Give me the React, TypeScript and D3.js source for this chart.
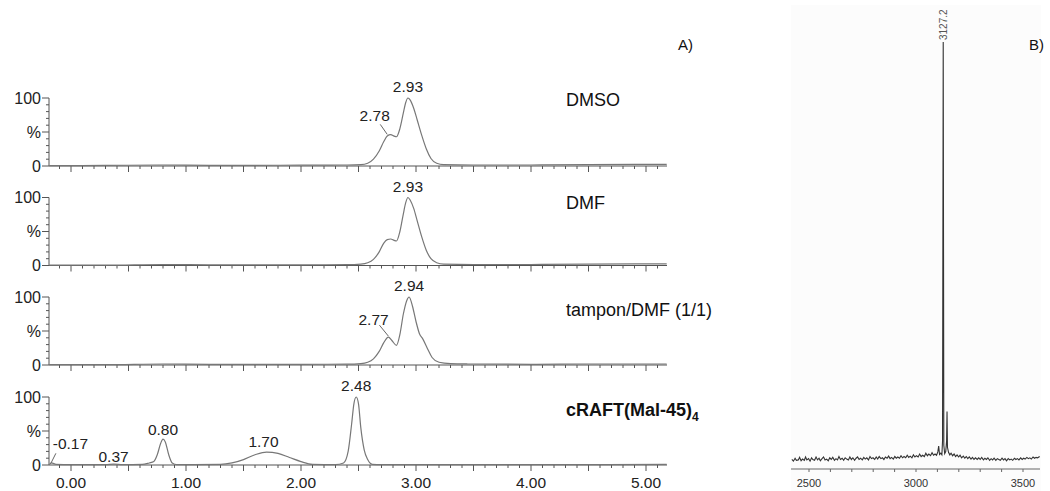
import React from "react";
import * as d3 from "d3";

// ---------- Panel A data (retention time in min, intensity in %) ----------
const traceNames = ["DMSO", "DMF", "tampon/DMF (1/1)", "cRAFT(Mal-45)"];

const dmso: [number, number][] = [
  [-0.19, 0.5], [0.3, 0.8], [0.8, 1.5], [1.2, 1], [1.6, 1], [2.0, 1.2], [2.4, 1.5],
  [2.52, 2], [2.58, 4], [2.63, 10], [2.68, 22], [2.72, 36], [2.75, 44], [2.78, 46],
  [2.81, 44], [2.83, 43], [2.86, 55], [2.89, 78], [2.91, 93], [2.93, 100], [2.95, 97],
  [2.98, 85], [3.01, 68], [3.05, 45], [3.09, 25], [3.13, 11], [3.18, 4], [3.24, 2],
  [3.5, 1.5], [4.0, 1.5], [4.5, 2], [5.0, 2.5], [5.18, 2.5],
];
const dmf: [number, number][] = [
  [-0.19, 0.5], [0.3, 0.5], [0.8, 1.5], [1.2, 1], [1.6, 0.8], [2.0, 1], [2.4, 1.2],
  [2.52, 2], [2.58, 4], [2.63, 9], [2.68, 20], [2.72, 33], [2.75, 38], [2.78, 39],
  [2.81, 37], [2.83, 36], [2.86, 50], [2.89, 76], [2.91, 92], [2.93, 100], [2.95, 96],
  [2.98, 84], [3.01, 66], [3.05, 42], [3.09, 22], [3.13, 10], [3.18, 4], [3.24, 2],
  [3.5, 1.5], [4.0, 1.5], [4.5, 2], [5.0, 2.5], [5.18, 2.5],
];
const tampon: [number, number][] = [
  [-0.19, 0.5], [0.3, 0.5], [0.8, 1.5], [1.2, 1], [1.6, 1], [2.0, 1], [2.4, 1.2],
  [2.52, 2], [2.58, 4], [2.63, 9], [2.68, 20], [2.72, 33], [2.76, 41], [2.79, 36],
  [2.83, 29], [2.86, 45], [2.89, 75], [2.92, 95], [2.94, 100], [2.97, 86], [3.0, 64],
  [3.03, 46], [3.06, 38], [3.1, 24], [3.14, 11], [3.2, 4], [3.3, 2], [3.45, 1.5],
  [4.0, 1], [4.5, 1.5], [5.0, 1.5], [5.18, 1.5],
];
const craft: [number, number][] = [
  [-0.19, 0.3], [-0.17, 3], [-0.13, 1], [0.0, 0.5], [0.3, 0.5], [0.37, 1.2], [0.45, 0.5],
  [0.62, 0.8], [0.68, 3], [0.72, 5], [0.75, 15], [0.78, 32], [0.8, 38], [0.82, 34],
  [0.85, 15], [0.88, 3], [0.92, 0.5], [1.3, 0.8], [1.4, 3], [1.5, 8], [1.6, 15],
  [1.7, 19], [1.8, 17], [1.9, 11], [2.0, 5], [2.1, 1], [2.3, 0.5], [2.37, 3],
  [2.41, 20], [2.44, 60], [2.46, 90], [2.48, 100], [2.5, 90], [2.52, 55], [2.55, 22],
  [2.58, 8], [2.62, 1], [2.7, 0.5], [4.0, 0.5], [5.18, 0.8],
];
const traces = [dmso, dmf, tampon, craft];

// peak labels
const peakLabels: { i: number; t: number; text: string; dx: number; y: number }[] = [
  { i: 0, t: 2.93, text: "2.93", dx: 0, y: 100 },
  { i: 0, t: 2.78, text: "2.78", dx: -16, y: 58 },
  { i: 1, t: 2.93, text: "2.93", dx: 0, y: 100 },
  { i: 2, t: 2.94, text: "2.94", dx: 0, y: 100 },
  { i: 2, t: 2.77, text: "2.77", dx: -16, y: 50 },
  { i: 3, t: 2.48, text: "2.48", dx: 0, y: 100 },
  { i: 3, t: 0.8, text: "0.80", dx: 0, y: 36 },
  { i: 3, t: 1.7, text: "1.70", dx: -3, y: 18 },
  { i: 3, t: 0.37, text: "0.37", dx: 0, y: -4 },
  { i: 3, t: -0.17, text: "-0.17", dx: 19, y: 15 },
];
const xTickValues = [0, 1, 2, 3, 4, 5];
const xTickLabels = ["0.00", "1.00", "2.00", "3.00", "4.00", "5.00"];
const yTickLabels = ["0", "%", "100"];

// ---------- Panel B data (m/z, relative intensity %) ----------
const msSpectrum: [number, number][] = [
  [2420, 0.6], [2427, 0.2], [2435, 0.9], [2441, 0.4], [2450, 0.5], [2456, 1.1], [2463, 0.3],
  [2470, 0.7], [2478, 0.4], [2484, 1.2], [2490, 0.5], [2498, 0.8], [2505, 0.2], [2512, 1.0],
  [2518, 0.6], [2526, 0.4], [2533, 1.2], [2540, 0.5], [2547, 0.9], [2553, 0.3], [2561, 0.8],
  [2568, 1.2], [2575, 0.5], [2582, 0.7], [2590, 0.3], [2597, 1.0], [2604, 0.6], [2611, 1.1],
  [2619, 0.4], [2626, 0.8], [2633, 0.5], [2640, 1.3], [2647, 0.6], [2655, 0.9], [2662, 0.4],
  [2669, 1.0], [2676, 0.7], [2684, 0.5], [2691, 1.2], [2698, 0.6], [2705, 1.0], [2713, 0.4],
  [2720, 0.9], [2727, 1.2], [2734, 0.6], [2741, 0.9], [2749, 0.5], [2756, 1.1], [2763, 0.7],
  [2770, 1.0], [2778, 0.5], [2785, 1.3], [2792, 0.8], [2799, 1.0], [2807, 0.6], [2814, 1.2],
  [2821, 0.7], [2828, 1.3], [2836, 0.8], [2843, 1.0], [2850, 0.6], [2857, 1.2], [2865, 0.9],
  [2872, 1.4], [2879, 0.8], [2886, 1.1], [2894, 0.7], [2901, 1.3], [2908, 0.9], [2915, 1.2],
  [2923, 0.9], [2930, 1.5], [2937, 1.0], [2944, 1.3], [2952, 1.0], [2959, 1.6], [2966, 1.1],
  [2973, 1.4], [2981, 1.0], [2988, 1.7], [2995, 1.2], [3002, 1.5], [3010, 1.2], [3017, 1.9],
  [3024, 1.3], [3031, 1.6], [3039, 1.3], [3046, 2.1], [3053, 1.5], [3060, 1.9], [3068, 1.5],
  [3075, 2.2], [3082, 1.6], [3089, 1.9], [3096, 1.6], [3102, 2.4], [3106, 3.8], [3110, 1.8],
  [3116, 2.1], [3121, 1.7], [3124, 5], [3127.2, 100], [3130, 4], [3134, 2.0], [3139, 2.5],
  [3143, 5], [3145, 12], [3147, 3.5], [3152, 2.3], [3158, 1.7], [3164, 2.1], [3171, 1.5],
  [3178, 1.9], [3185, 1.3], [3192, 1.7], [3199, 1.2], [3206, 1.6], [3213, 1.0], [3221, 1.4],
  [3228, 0.9], [3235, 1.3], [3242, 0.8], [3249, 1.2], [3257, 0.7], [3264, 1.1], [3271, 0.6],
  [3278, 1.0], [3286, 0.6], [3293, 1.0], [3300, 0.6], [3307, 1.1], [3315, 0.5], [3322, 0.9],
  [3329, 0.6], [3336, 1.0], [3344, 0.4], [3351, 0.8], [3358, 0.5], [3365, 0.9], [3373, 0.4],
  [3380, 0.8], [3387, 0.6], [3394, 0.4], [3402, 0.9], [3409, 0.5], [3416, 0.8], [3423, 0.3],
  [3431, 0.8], [3438, 0.5], [3445, 0.7], [3452, 0.4], [3460, 0.9], [3467, 0.6], [3474, 0.8],
  [3481, 0.5], [3489, 1.0], [3496, 0.6], [3503, 0.9], [3510, 0.7], [3518, 1.1], [3525, 0.8],
  [3532, 1.0], [3539, 0.7], [3547, 1.2], [3554, 0.9], [3561, 1.1], [3568, 1.0], [3578, 1.3],
];
const msTickValues = [2500, 2600, 2700, 2800, 2900, 3000, 3100, 3200, 3300, 3400, 3500];
const msTickLabels = ["2500", "3000", "3500"];
const msPeakLabel = { mz: 3127.2, text: "3127.2" };

const FONT = "'Liberation Sans', Arial, Helvetica, sans-serif";

export default function App() {
  // Panel A geometry
  const x = d3.scaleLinear().domain([0, 5]).range([71, 646]);
  const xLeft = x.invert(49);
  const xRight = x.invert(667);
  const panelTop = [98, 197.5, 297, 397];
  const panelH = 68;
  const yScales = panelTop.map((t) =>
    d3.scaleLinear().domain([0, 100]).range([t + panelH, t])
  );
  const minorX = d3.range(-0.1, 5.15, 0.1).map((v) => Math.round(v * 10) / 10);
  const yMinor = d3.range(0, 101, 10);

  // Panel B geometry
  const xb = d3.scaleLinear().domain([2500, 3500]).range([809, 1023]);
  const yb = d3.scaleLinear().domain([0, 100]).range([462, 42]);
  const msLine = d3
    .line<[number, number]>()
    .x((d) => xb(d[0]))
    .y((d) => yb(d[1]))
    .curve(d3.curveLinear);

  const gray = "#555";
  return (
    <div style={{ position: "absolute", left: 0, top: 0 }}>
      <svg width={1050} height={491} style={{ display: "block", fontFamily: FONT }}>
        <rect x={0} y={0} width={1050} height={491} fill="#fff" />
        <rect x={791} y={5} width={250} height={486} fill="#fcfcfc" />

        {/* ---------- Panel A ---------- */}
        {traces.map((tr, i) => {
          const y = yScales[i];
          const y0 = y(0);
          const line = d3
            .line<[number, number]>()
            .x((d) => x(d[0]))
            .y((d) => y(d[1]))
            .curve(d3.curveMonotoneX);
          return (
            <g key={i}>
              {/* y axis */}
              <line x1={49} x2={49} y1={y(100)} y2={y0} stroke={gray} strokeWidth={1} />
              {yMinor.map((v) => (
                <line
                  key={v}
                  x1={v % 50 === 0 ? 42 : 46}
                  x2={49}
                  y1={y(v)}
                  y2={y(v)}
                  stroke={gray}
                  strokeWidth={1}
                />
              ))}
              {[0, 50, 100].map((v, k) => (
                <text
                  key={v}
                  x={41}
                  y={y(v)}
                  dy="0.36em"
                  textAnchor="end"
                  fontSize={16}
                  fill="#222"
                >
                  {yTickLabels[k]}
                </text>
              ))}
              {/* x axis */}
              <line x1={x(xLeft)} x2={x(xRight)} y1={y0} y2={y0} stroke={gray} strokeWidth={1.2} />
              {minorX.map((v) => (
                <line
                  key={v}
                  x1={x(v)}
                  x2={x(v)}
                  y1={y0}
                  y2={y0 + (Math.abs(v * 2 - Math.round(v * 2)) < 1e-6 ? 6 : 3)}
                  stroke={gray}
                  strokeWidth={1}
                />
              ))}
              {/* trace */}
              <path d={line(tr) || ""} fill="none" stroke="#777" strokeWidth={1.2} />
              {/* name */}
              <text
                x={566}
                y={[100, 203, 310, 410][i]}
                dy="0.36em"
                fontSize={18}
                fill="#111"
                fontWeight={i === 3 ? "bold" : "normal"}
              >
                {traceNames[i]}
                {i === 3 ? (
                  <tspan fontSize={12} dy={5}>
                    4
                  </tspan>
                ) : null}
              </text>
            </g>
          );
        })}

        {/* peak labels */}
        {peakLabels.map((p, k) => {
          const y = yScales[p.i];
          const cx = x(p.t) + p.dx;
          const baseY = y(p.y) - 6;
          return (
            <text key={k} x={cx} y={baseY} textAnchor="middle" fontSize={15.5} fill="#222">
              {p.text}
            </text>
          );
        })}
        {/* leader lines */}
        {[
          { i: 0, t: 2.75, v: 45, lx: -7, ly: -10 },
          { i: 2, t: 2.76, v: 41, lx: -9, ly: -11 },
          { i: 3, t: -0.175, v: 1, lx: 5, ly: -10 },
        ].map((l, k) => {
          const y = yScales[l.i];
          const px = x(l.t);
          const py = y(l.v) - 1;
          return (
            <line
              key={k}
              x1={px}
              y1={py}
              x2={px + l.lx}
              y2={py + l.ly}
              stroke="#666"
              strokeWidth={1}
            />
          );
        })}

        {/* bottom x labels */}
        {xTickValues.map((v, k) => (
          <text key={v} x={x(v)} y={488} textAnchor="middle" fontSize={15.5} fill="#222">
            {xTickLabels[k]}
          </text>
        ))}

        <text x={678} y={50} fontSize={15} fill="#111">
          A)
        </text>

        {/* ---------- Panel B ---------- */}
        <line x1={791} x2={1040} y1={469} y2={469} stroke="#666" strokeWidth={1} />
        {msTickValues.map((v) => (
          <line key={v} x1={xb(v)} x2={xb(v)} y1={469} y2={472} stroke="#666" strokeWidth={1} />
        ))}
        {msTickLabels.map((s) => (
          <text key={s} x={xb(+s)} y={487} textAnchor="middle" fontSize={11} fill="#333">
            {s}
          </text>
        ))}
        <path d={msLine(msSpectrum) || ""} fill="none" stroke="#333" strokeWidth={1.1} />
        <text
          transform={`translate(${xb(msPeakLabel.mz) + 3.5},${yb(100) - 2}) rotate(-90)`}
          fontSize={10}
          fill="#555"
        >
          {msPeakLabel.text}
        </text>
        <text x={1029} y={50} fontSize={15} fill="#111">
          B)
        </text>
      </svg>
    </div>
  );
}
